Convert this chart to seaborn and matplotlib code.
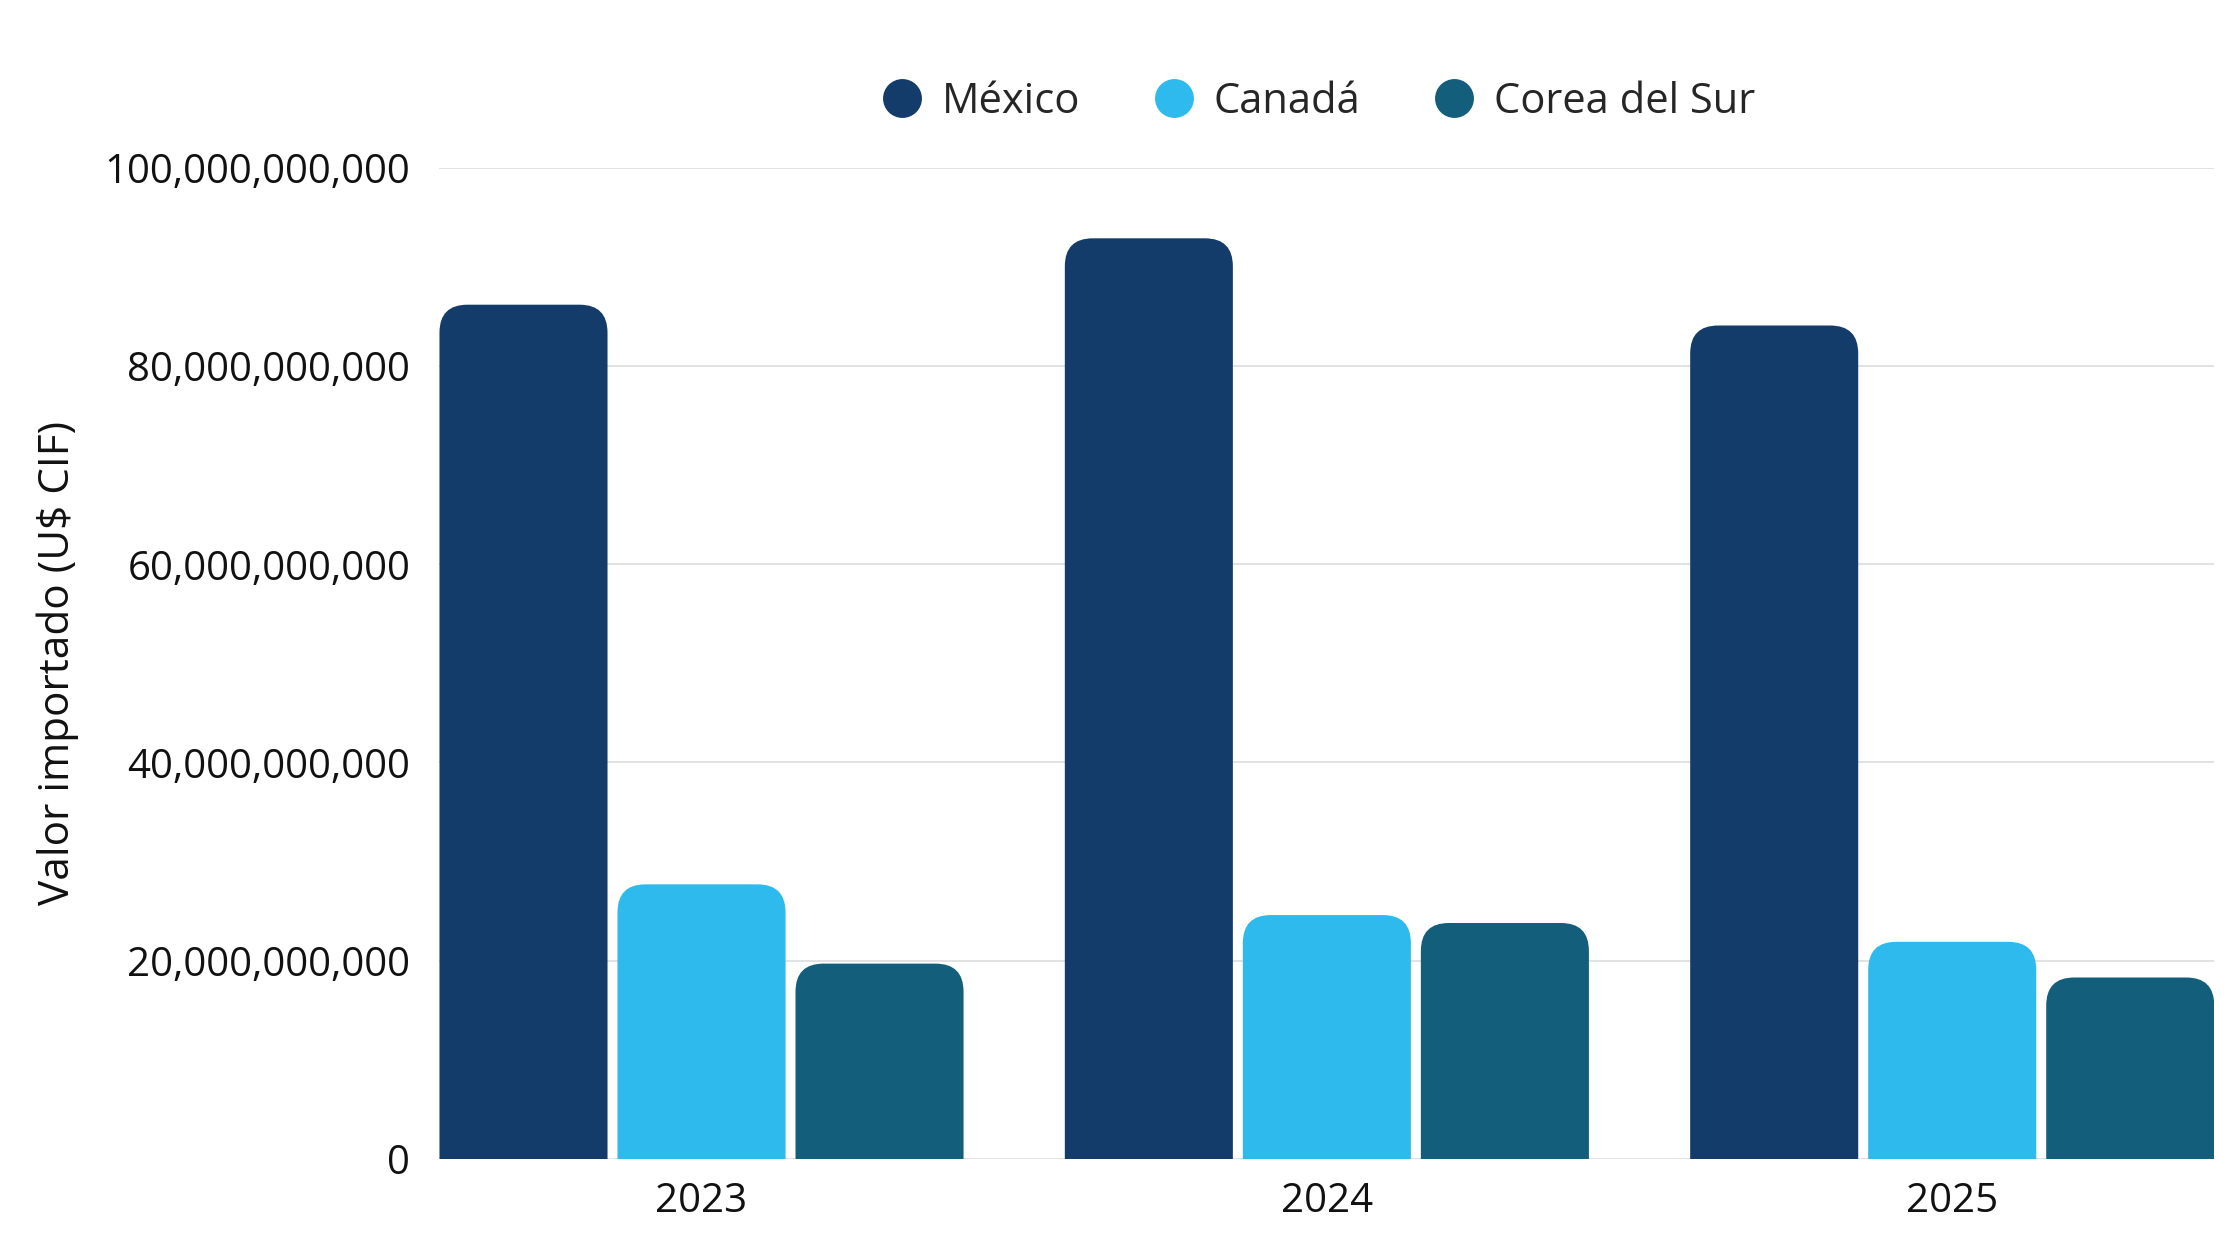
import matplotlib
matplotlib.use("Agg")
import matplotlib.pyplot as plt
from matplotlib.lines import Line2D
from matplotlib.patches import FancyBboxPatch
from matplotlib.ticker import FuncFormatter
import pandas as pd
import seaborn as sns

sns.set_theme(style="white")
plt.rcParams["font.family"] = ["Open Sans", "DejaVu Sans"]

# data (US$ CIF)
years = ["2023", "2024", "2025"]
countries = ["México", "Canadá", "Corea del Sur"]
mexico = [86.2e9, 92.9e9, 84.1e9]
canada = [27.7e9, 24.6e9, 21.9e9]
corea = [19.7e9, 23.8e9, 18.3e9]
colors = ["#133C6B", "#2EBAEC", "#125E7B"]

rows = []
for name, vals in zip(countries, [mexico, canada, corea]):
    for yr, v in zip(years, vals):
        rows.append({"Año": yr, "País": name, "Valor": v})
df = pd.DataFrame(rows)

fig = plt.figure(figsize=(11.2, 6.3), dpi=200)
ax = fig.add_axes([0.1962, 0.0803, 0.7923, 0.7864])

sns.barplot(data=df, x="Año", y="Valor", hue="País", hue_order=countries,
            order=years, palette=colors, width=0.854, gap=0.056,
            legend=False, errorbar=None, saturation=1, ax=ax)

ax.set_xlim(-0.419, 2.419)
ax.set_ylim(0, 100e9)
ax.set_yticks([0, 20e9, 40e9, 60e9, 80e9, 100e9])
ax.yaxis.set_major_formatter(FuncFormatter(lambda v, _: f"{v:,.0f}"))
ax.grid(axis="y", color="#dddddd", linewidth=0.6)
ax.set_axisbelow(True)
for s in ax.spines.values():
    s.set_visible(False)
ax.tick_params(axis="both", length=0, labelsize=14.5, colors="#111111")
ax.tick_params(axis="y", pad=10.5)
ax.tick_params(axis="x", pad=8.0)
ax.set_xlabel("")
ax.set_ylabel("Valor importado (U$ CIF)", fontsize=15.2, color="#111111")
ax.yaxis.set_label_coords(-0.203, 0.5)

# swap the square bars for ones with rounded top corners
bbox = ax.get_window_extent()
px_x = bbox.width / (ax.get_xlim()[1] - ax.get_xlim()[0])
px_y = bbox.height / (ax.get_ylim()[1] - ax.get_ylim()[0])
radius_px = 28
rx = radius_px / px_x
ry = radius_px / px_y
for p in list(ax.patches):
    x, y, w, h = p.get_x(), p.get_y(), p.get_width(), p.get_height()
    fc = p.get_facecolor()
    p.remove()
    ax.add_patch(FancyBboxPatch((x, y - ry), w, h + ry,
                                boxstyle=f"round,pad=0,rounding_size={rx}",
                                mutation_aspect=ry / rx, fc=fc, ec="none",
                                zorder=2))

handles = [Line2D([], [], marker="o", ls="", ms=13, mfc=c, mec=c)
           for c in colors]
ax.legend(handles, countries, loc="center", bbox_to_anchor=(0.495, 1.067),
          ncol=3, frameon=False, fontsize=15, handlelength=1.0,
          handletextpad=0.45, columnspacing=1.75)

fig.savefig("out.png", dpi=200, facecolor="white")
